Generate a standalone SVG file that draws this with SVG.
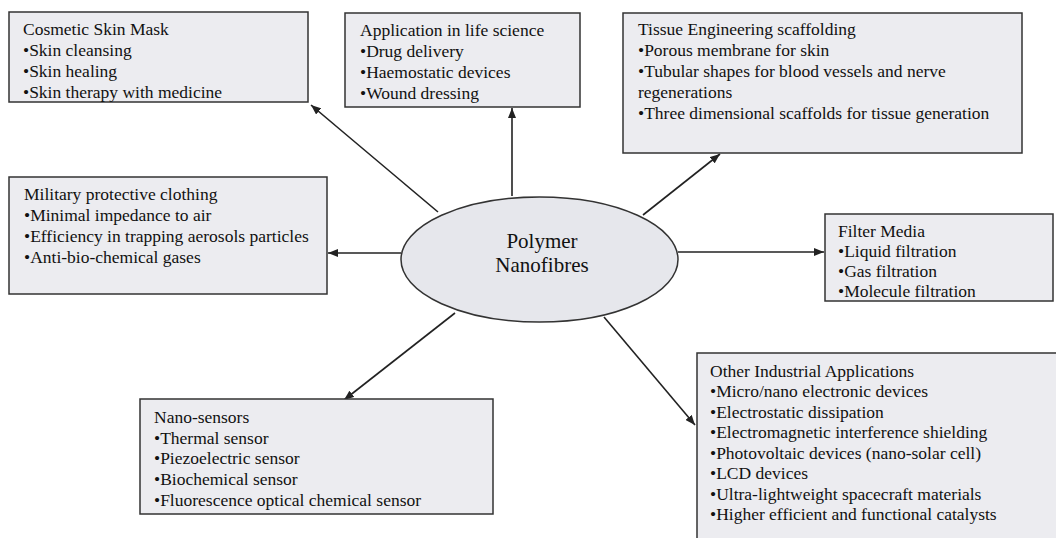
<svg xmlns="http://www.w3.org/2000/svg" width="1056" height="538" viewBox="0 0 1056 538">
<defs>
<style>
.box{fill:#ececf0;stroke:#333;stroke-width:1.5}
.t{font-family:"Liberation Serif","Times New Roman",serif;font-size:17.5px;fill:#111}
.c{font-family:"Liberation Serif","Times New Roman",serif;font-size:21px;fill:#111;text-anchor:middle}
.ln{stroke:#222;stroke-width:1.6;fill:none;marker-end:url(#ah)}
</style>
<marker id="ah" viewBox="0 0 10 8" refX="10" refY="4" markerWidth="10" markerHeight="8" markerUnits="userSpaceOnUse" orient="auto">
<path d="M0,0 L10,4 L0,8 z" fill="#222"/>
</marker>
</defs>
<rect width="1056" height="538" fill="#fff"/>
<g id="connectors">
<line class="ln" x1="438" y1="212" x2="311" y2="105"/>
<line class="ln" x1="512" y1="196" x2="512" y2="108"/>
<line class="ln" x1="643" y1="215" x2="720" y2="154"/>
<line class="ln" x1="401" y1="253" x2="328" y2="253"/>
<line class="ln" x1="678" y1="252" x2="824" y2="252"/>
<line class="ln" x1="455" y1="313" x2="344" y2="400"/>
<line class="ln" x1="604" y1="317" x2="695" y2="425"/>
</g>
<g id="center">
<ellipse cx="539.5" cy="259.5" rx="138.5" ry="62.5" fill="#e6e7ec" stroke="#333" stroke-width="1.5"/>
<text class="c" x="542" y="248">Polymer</text>
<text class="c" x="542" y="272">Nanofibres</text>
</g>
<g id="cosmetic">
<rect class="box" x="9" y="12" width="299" height="90"/>
<text class="t" x="23" y="35">Cosmetic Skin Mask</text>
<text class="t" x="23" y="56">•Skin cleansing</text>
<text class="t" x="23" y="77">•Skin healing</text>
<text class="t" x="23" y="98">•Skin therapy with medicine</text>
</g>
<g id="lifescience">
<rect class="box" x="345" y="13" width="235" height="94"/>
<text class="t" x="360" y="36">Application in life science</text>
<text class="t" x="360" y="57">•Drug delivery</text>
<text class="t" x="360" y="78">•Haemostatic devices</text>
<text class="t" x="360" y="99">•Wound dressing</text>
</g>
<g id="tissue">
<rect class="box" x="623" y="13" width="399" height="140"/>
<text class="t" x="638" y="35">Tissue Engineering scaffolding</text>
<text class="t" x="638" y="56">•Porous membrane for skin</text>
<text class="t" x="638" y="77">•Tubular shapes for blood vessels and nerve</text>
<text class="t" x="638" y="98">regenerations</text>
<text class="t" x="638" y="119">•Three dimensional scaffolds for tissue generation</text>
</g>
<g id="military">
<rect class="box" x="9" y="177" width="318" height="117"/>
<text class="t" x="24" y="200">Military protective clothing</text>
<text class="t" x="24" y="221">•Minimal impedance to air</text>
<text class="t" x="24" y="242">•Efficiency in trapping aerosols particles</text>
<text class="t" x="24" y="263">•Anti-bio-chemical gases</text>
</g>
<g id="filter">
<rect class="box" x="825" y="214" width="228" height="87"/>
<text class="t" x="838" y="237">Filter Media</text>
<text class="t" x="838" y="257">•Liquid filtration</text>
<text class="t" x="838" y="277">•Gas filtration</text>
<text class="t" x="838" y="297">•Molecule filtration</text>
</g>
<g id="sensors">
<rect class="box" x="140" y="399" width="353" height="115"/>
<text class="t" x="154" y="423">Nano-sensors</text>
<text class="t" x="154" y="444">•Thermal sensor</text>
<text class="t" x="154" y="464">•Piezoelectric sensor</text>
<text class="t" x="154" y="485">•Biochemical sensor</text>
<text class="t" x="154" y="506">•Fluorescence optical chemical sensor</text>
</g>
<g id="industrial">
<rect class="box" x="697" y="353" width="370" height="200"/>
<text class="t" x="710" y="377">Other Industrial Applications</text>
<text class="t" x="710" y="397">•Micro/nano electronic devices</text>
<text class="t" x="710" y="418">•Electrostatic dissipation</text>
<text class="t" x="710" y="438">•Electromagnetic interference shielding</text>
<text class="t" x="710" y="459">•Photovoltaic devices (nano-solar cell)</text>
<text class="t" x="710" y="479">•LCD devices</text>
<text class="t" x="710" y="500">•Ultra-lightweight spacecraft materials</text>
<text class="t" x="710" y="520">•Higher efficient and functional catalysts</text>
</g>
</svg>
